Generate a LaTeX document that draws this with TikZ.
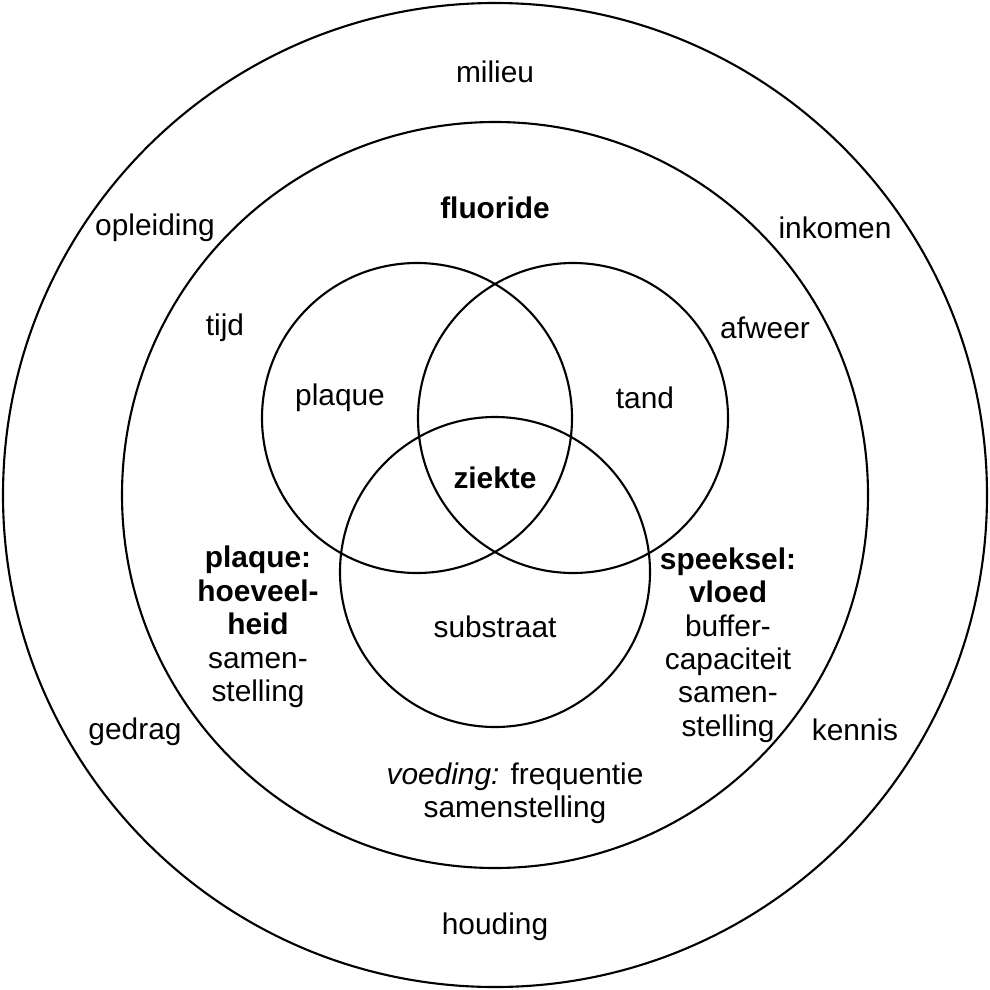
\documentclass[tikz,border=0pt]{standalone}
\usepackage{fontspec}
\setmainfont{Liberation Sans}
\begin{document}
\begin{tikzpicture}[x=0.02cm,y=-0.02cm,
  ring/.style={draw=black,line width=1.2pt},
  lbl/.style={font=\fontsize{17}{19}\selectfont,align=center,inner sep=0pt},
  bold lbl/.style={lbl,font=\fontsize{17}{19}\selectfont\bfseries}]
\useasboundingbox (0,0) rectangle (990,990);
% rings
\draw[ring] (495,495) circle (492);
\draw[ring] (495,495) circle (373);
% venn
\draw[ring] (417,418) circle (155);
\draw[ring] (573,418) circle (155);
\draw[ring] (495,572) circle (155);
% outer ring labels
\node[lbl] (milieu) at (495,72) {milieu};
\node[lbl] (opleiding) at (155,228) {opleiding};
\node[lbl] (inkomen) at (835,228) {inkomen};
\node[lbl] (gedrag) at (135,732) {gedrag};
\node[lbl] (kennis) at (855,730) {kennis};
\node[lbl] (houding) at (495,927) {houding};
% inner ring labels
\node[bold lbl] (fluoride) at (495,208) {fluoride};
\node[lbl] (tijd) at (225,328) {tijd};
\node[lbl] (afweer) at (765,328) {afweer};
\node[lbl] (plaqueL) at (258,627) {\textbf{plaque:}\\\textbf{hoeveel-}\\\textbf{heid}\\samen-\\stelling};
\node[lbl] (speeksel) at (728,645) {\textbf{speeksel:}\\\textbf{vloed}\\buffer-\\capaciteit\\samen-\\stelling};
\node[lbl] (voeding) at (515,793) {\textit{voeding:} frequentie\\samenstelling};
% venn labels
\node[lbl] (plaque) at (340,398) {plaque};
\node[lbl] (tand) at (645,398) {tand};
\node[bold lbl] (ziekte) at (495,478) {ziekte};
\node[lbl] (substraat) at (495,627) {substraat};
\end{tikzpicture}
\end{document}
